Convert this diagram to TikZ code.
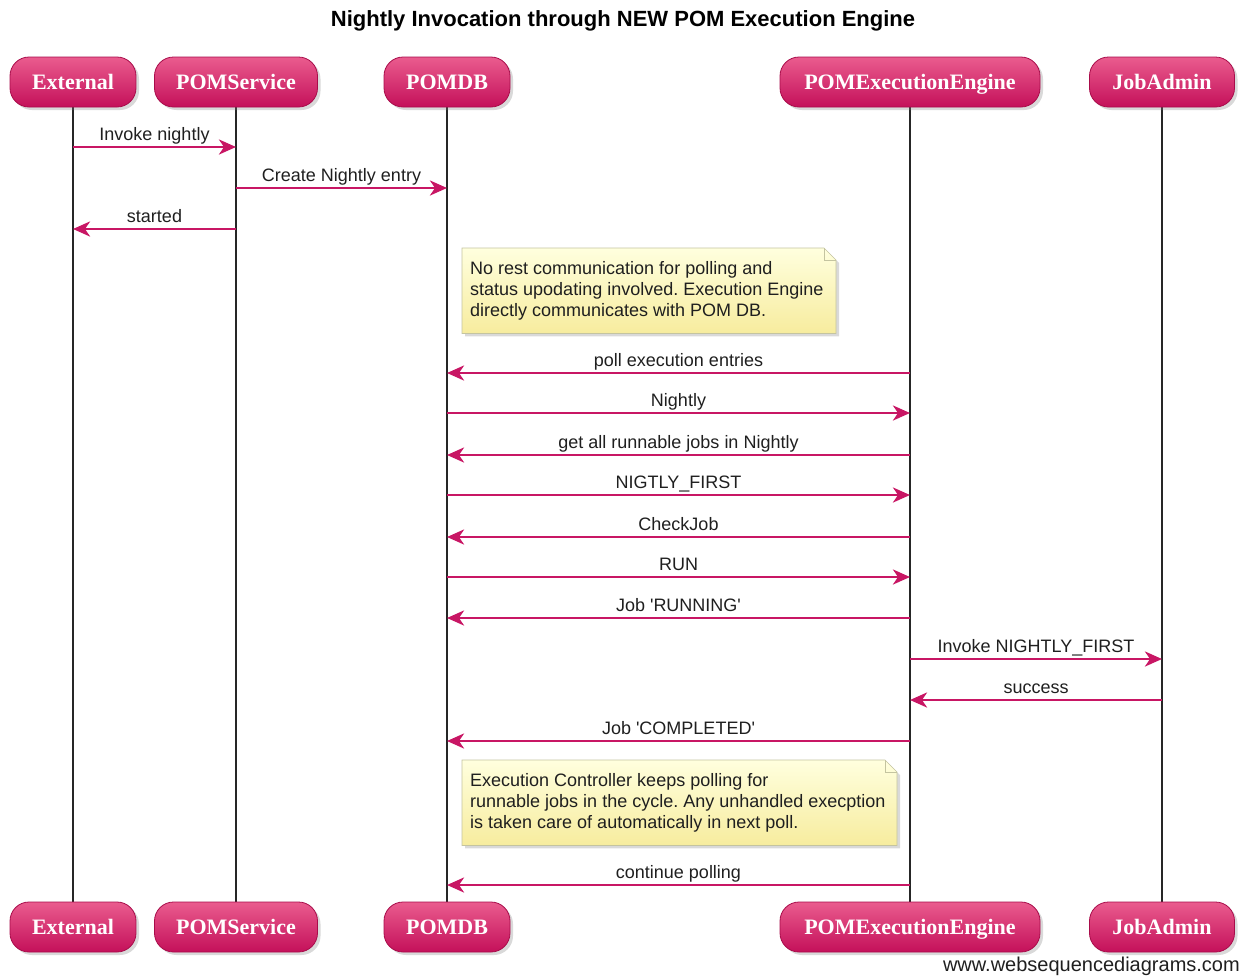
\documentclass[tikz,border=0pt]{standalone}
\usepackage{fontspec}
\setmainfont{Liberation Sans}
\newfontfamily\partfont{Liberation Serif}
\newfontfamily\plainsans{Liberation Sans}
\usetikzlibrary{arrows.meta,shadows,calc}
\frenchspacing

\definecolor{msgc}{RGB}{200,22,100}
\definecolor{boxtop}{RGB}{234,92,142}
\definecolor{boxbot}{RGB}{196,16,90}
\definecolor{boxline}{RGB}{168,12,74}
\definecolor{notetop}{RGB}{255,255,222}
\definecolor{notebot}{RGB}{247,236,158}
\definecolor{noteline}{RGB}{196,196,160}

\pgfdeclarelayer{background}
\pgfsetlayers{background,main}

% straight apostrophe
\newcommand\sq{{\plainsans\char"27}}

% one message: y position, source lifeline, target lifeline, label
\newcommand\seqmsg[4]{%
  \draw[msg] (#2 |- 0,#1) -- (#3 |- 0,#1)
    node[lbl, midway, anchor=base, yshift=7pt] {#4};}

% folded-corner note of given width drawn behind a text node
\newcommand\notebg[2]{%
  \begin{pgfonlayer}{background}
    \path[noteshape] (#1.north west) -- ($(#1.north west)+(#2-12,0)$)
      -- ($(#1.north west)+(#2,12)$) -- ($(#1.south west)+(#2,0)$)
      -- (#1.south west) -- cycle;
    \draw[noteline, line width=0.7pt] ($(#1.north west)+(#2-12,0)$)
      -- ($(#1.north west)+(#2-12,12)$) -- ($(#1.north west)+(#2,12)$);
  \end{pgfonlayer}}

\begin{document}
\begin{tikzpicture}[x=1pt, y=-1pt,
  part/.style={rounded corners=19pt, top color=boxtop, bottom color=boxbot,
    draw=boxline, line width=0.8pt, minimum height=50pt, inner sep=0pt,
    text height=14.6pt, text depth=0pt,
    text=white, font=\partfont\bfseries\fontsize{22}{26}\selectfont,
    drop shadow={shadow xshift=3pt, shadow yshift=-3pt, opacity=.3}},
  life/.style={draw=black!85, line width=1.3pt},
  msg/.style={draw=msgc, line width=2.8pt,
    -{Stealth[length=17pt, width=15pt, inset=5pt]}},
  lbl/.style={font=\fontsize{18}{21}\selectfont, text=black!88, inner sep=0pt},
  notetext/.style={font=\fontsize{18}{21}\selectfont, text=black!88,
    align=left, inner xsep=8pt, inner ysep=0pt, anchor=north west,
    minimum height=85pt},
  noteshape/.style={top color=notetop, bottom color=notebot, draw=noteline,
    line width=0.7pt,
    drop shadow={shadow xshift=3pt, shadow yshift=-3pt, opacity=.3}}
]
\useasboundingbox (0,0) rectangle (1253,975);

% title
\node[font=\bfseries\fontsize{22}{25}\selectfont, anchor=base] (title) at (623,26)
  {Nightly Invocation through NEW POM Execution Engine};

% participants, top row
\node[part, minimum width=126pt] (ext) at (73,82)   {External};
\node[part, minimum width=163pt] (svc) at (236,82)  {POMService};
\node[part, minimum width=126pt] (db)  at (447,82)  {POMDB};
\node[part, minimum width=260pt] (eng) at (910,82)  {POMExecutionEngine};
\node[part, minimum width=145pt] (job) at (1162,82) {JobAdmin};

% participants, bottom row
\node[part, minimum width=126pt] (extB) at (73,927)   {External};
\node[part, minimum width=163pt] (svcB) at (236,927)  {POMService};
\node[part, minimum width=126pt] (dbB)  at (447,927)  {POMDB};
\node[part, minimum width=260pt] (engB) at (910,927)  {POMExecutionEngine};
\node[part, minimum width=145pt] (jobB) at (1162,927) {JobAdmin};

% lifelines
\begin{pgfonlayer}{background}
\draw[life] (ext.south) -- (extB.north);
\draw[life] (svc.south) -- (svcB.north);
\draw[life] (db.south)  -- (dbB.north);
\draw[life] (eng.south) -- (engB.north);
\draw[life] (job.south) -- (jobB.north);
\end{pgfonlayer}

% messages
\seqmsg{147}{ext}{svc}{Invoke nightly}
\seqmsg{188}{svc}{db}{Create Nightly entry}
\seqmsg{229}{svc}{ext}{started}

\node[notetext] (note1) at (462,248)
  {No rest communication for polling and\\
   status upodating involved. Execution Engine\\
   directly communicates with POM DB.};
\notebg{note1}{374}

\seqmsg{373}{eng}{db}{poll execution entries}
\seqmsg{413}{db}{eng}{Nightly}
\seqmsg{455}{eng}{db}{get all runnable jobs in Nightly}
\seqmsg{495}{db}{eng}{NIGTLY\_FIRST}
\seqmsg{537}{eng}{db}{CheckJob}
\seqmsg{577}{db}{eng}{RUN}
\seqmsg{618}{eng}{db}{Job \sq RUNNING\sq}
\seqmsg{659}{eng}{job}{Invoke NIGHTLY\_FIRST}
\seqmsg{700}{job}{eng}{success}
\seqmsg{741}{eng}{db}{Job \sq COMPLETED\sq}

\node[notetext] (note2) at (462,760)
  {Execution Controller keeps polling for\\
   runnable jobs in the cycle. Any unhandled execption\\
   is taken care of automatically in next poll.};
\notebg{note2}{435}

\seqmsg{885}{eng}{db}{continue polling}

% footer
\node[font=\fontsize{20}{22}\selectfont, text=black!88, anchor=base east, inner sep=0pt]
  (footer) at (1240,971) {www.websequencediagrams.com};
\end{tikzpicture}
\end{document}
